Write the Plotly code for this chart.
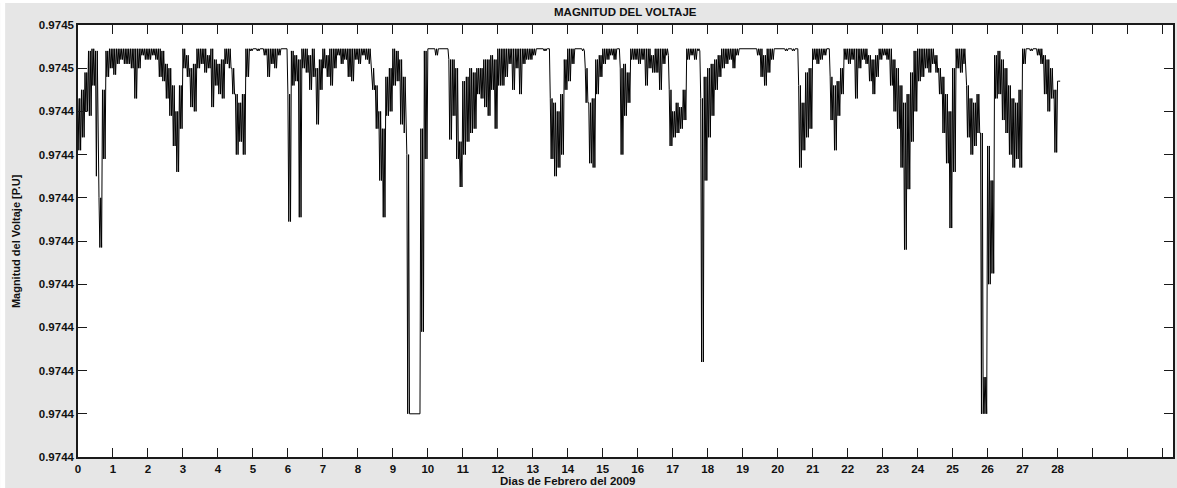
import plotly.graph_objects as go

# Voltage magnitude [p.u.], one bin per 0.1 day (Feb 2009).
# V_MAX: upper value in the bin, V_MIN: lowest value in the bin.
V_MAX = [
    0.9744486, 0.9744490, 0.9744498, 0.9744508, 0.9744509, 0.9744508, 0.9744440, 0.9744490, 0.9744508, 0.9744509,
    0.9744509, 0.9744509, 0.9744509, 0.9744509, 0.9744509, 0.9744509, 0.9744509, 0.9744509, 0.9744509, 0.9744509,
    0.9744509, 0.9744509, 0.9744509, 0.9744509, 0.9744508, 0.9744502, 0.9744500, 0.9744492, 0.9744480, 0.9744492,
    0.9744509, 0.9744506, 0.9744500, 0.9744502, 0.9744509, 0.9744509, 0.9744509, 0.9744506, 0.9744509, 0.9744504,
    0.9744502, 0.9744504, 0.9744509, 0.9744509, 0.9744500, 0.9744488, 0.9744484, 0.9744488, 0.9744509, 0.9744509,
    0.9744509, 0.9744509, 0.9744509, 0.9744509, 0.9744509, 0.9744509, 0.9744509, 0.9744509, 0.9744509, 0.9744509,
    0.9744488, 0.9744508, 0.9744506, 0.9744504, 0.9744509, 0.9744509, 0.9744506, 0.9744509, 0.9744500, 0.9744504,
    0.9744509, 0.9744506, 0.9744509, 0.9744509, 0.9744509, 0.9744509, 0.9744509, 0.9744509, 0.9744509, 0.9744509,
    0.9744509, 0.9744509, 0.9744509, 0.9744509, 0.9744500, 0.9744492, 0.9744480, 0.9744472, 0.9744496, 0.9744500,
    0.9744509, 0.9744508, 0.9744504, 0.9744496, 0.9744460, 0.9744340, 0.9744340, 0.9744340, 0.9744472, 0.9744508,
    0.9744509, 0.9744509, 0.9744509, 0.9744509, 0.9744509, 0.9744509, 0.9744504, 0.9744504, 0.9744500, 0.9744466,
    0.9744494, 0.9744496, 0.9744500, 0.9744498, 0.9744500, 0.9744500, 0.9744504, 0.9744504, 0.9744506, 0.9744504,
    0.9744509, 0.9744509, 0.9744509, 0.9744509, 0.9744509, 0.9744509, 0.9744509, 0.9744509, 0.9744509, 0.9744509,
    0.9744509, 0.9744509, 0.9744509, 0.9744509, 0.9744509, 0.9744486, 0.9744484, 0.9744480, 0.9744488, 0.9744504,
    0.9744509, 0.9744509, 0.9744509, 0.9744509, 0.9744509, 0.9744500, 0.9744484, 0.9744486, 0.9744504, 0.9744506,
    0.9744509, 0.9744509, 0.9744509, 0.9744509, 0.9744509, 0.9744500, 0.9744502, 0.9744498, 0.9744509, 0.9744509,
    0.9744509, 0.9744509, 0.9744509, 0.9744509, 0.9744506, 0.9744509, 0.9744509, 0.9744509, 0.9744509, 0.9744490,
    0.9744480, 0.9744484, 0.9744482, 0.9744490, 0.9744509, 0.9744509, 0.9744509, 0.9744509, 0.9744486, 0.9744496,
    0.9744500, 0.9744502, 0.9744504, 0.9744506, 0.9744509, 0.9744509, 0.9744509, 0.9744509, 0.9744509, 0.9744509,
    0.9744509, 0.9744509, 0.9744509, 0.9744509, 0.9744509, 0.9744509, 0.9744506, 0.9744509, 0.9744509, 0.9744509,
    0.9744509, 0.9744509, 0.9744509, 0.9744509, 0.9744509, 0.9744509, 0.9744492, 0.9744484, 0.9744498, 0.9744500,
    0.9744509, 0.9744509, 0.9744509, 0.9744509, 0.9744509, 0.9744496, 0.9744492, 0.9744494, 0.9744500, 0.9744509,
    0.9744509, 0.9744509, 0.9744509, 0.9744509, 0.9744509, 0.9744509, 0.9744506, 0.9744504, 0.9744506, 0.9744509,
    0.9744509, 0.9744509, 0.9744509, 0.9744504, 0.9744500, 0.9744492, 0.9744484, 0.9744488, 0.9744498, 0.9744508,
    0.9744509, 0.9744509, 0.9744509, 0.9744509, 0.9744509, 0.9744506, 0.9744500, 0.9744496, 0.9744488, 0.9744480,
    0.9744500, 0.9744509, 0.9744509, 0.9744509, 0.9744492, 0.9744486, 0.9744484, 0.9744488, 0.9744470, 0.9744357,
    0.9744464, 0.9744448, 0.9744506, 0.9744508, 0.9744504, 0.9744500, 0.9744492, 0.9744486, 0.9744484, 0.9744490,
    0.9744509, 0.9744509, 0.9744509, 0.9744509, 0.9744509, 0.9744509, 0.9744506, 0.9744504, 0.9744500, 0.9744490,
    0.9744494,
]
V_MIN = [
    0.9744462, 0.9744468, 0.9744480, 0.9744478, 0.9744492, 0.9744450, 0.9744417, 0.9744458, 0.9744496, 0.9744500,
    0.9744497, 0.9744502, 0.9744504, 0.9744502, 0.9744502, 0.9744500, 0.9744486, 0.9744500, 0.9744506, 0.9744504,
    0.9744504, 0.9744506, 0.9744504, 0.9744496, 0.9744494, 0.9744486, 0.9744478, 0.9744464, 0.9744452, 0.9744472,
    0.9744500, 0.9744496, 0.9744482, 0.9744480, 0.9744500, 0.9744502, 0.9744498, 0.9744500, 0.9744482, 0.9744492,
    0.9744488, 0.9744486, 0.9744502, 0.9744500, 0.9744488, 0.9744460, 0.9744466, 0.9744460, 0.9744496, 0.9744508,
    0.9744509, 0.9744508, 0.9744509, 0.9744506, 0.9744496, 0.9744502, 0.9744500, 0.9744506, 0.9744509, 0.9744509,
    0.9744429, 0.9744492, 0.9744494, 0.9744431, 0.9744500, 0.9744498, 0.9744490, 0.9744496, 0.9744474, 0.9744490,
    0.9744500, 0.9744496, 0.9744492, 0.9744500, 0.9744506, 0.9744502, 0.9744504, 0.9744496, 0.9744494, 0.9744504,
    0.9744502, 0.9744506, 0.9744504, 0.9744502, 0.9744490, 0.9744472, 0.9744448, 0.9744431, 0.9744478, 0.9744480,
    0.9744492, 0.9744494, 0.9744474, 0.9744470, 0.9744340, 0.9744340, 0.9744340, 0.9744340, 0.9744378, 0.9744458,
    0.9744509, 0.9744509, 0.9744506, 0.9744509, 0.9744509, 0.9744509, 0.9744467, 0.9744478, 0.9744458, 0.9744445,
    0.9744460, 0.9744466, 0.9744470, 0.9744472, 0.9744488, 0.9744486, 0.9744482, 0.9744478, 0.9744490, 0.9744472,
    0.9744492, 0.9744492, 0.9744496, 0.9744502, 0.9744490, 0.9744500, 0.9744488, 0.9744502, 0.9744504, 0.9744504,
    0.9744506, 0.9744509, 0.9744509, 0.9744508, 0.9744509, 0.9744458, 0.9744450, 0.9744454, 0.9744460, 0.9744490,
    0.9744494, 0.9744502, 0.9744509, 0.9744509, 0.9744508, 0.9744484, 0.9744456, 0.9744454, 0.9744488, 0.9744496,
    0.9744502, 0.9744504, 0.9744506, 0.9744504, 0.9744509, 0.9744460, 0.9744478, 0.9744484, 0.9744504, 0.9744504,
    0.9744502, 0.9744504, 0.9744492, 0.9744500, 0.9744498, 0.9744498, 0.9744490, 0.9744502, 0.9744506, 0.9744464,
    0.9744468, 0.9744470, 0.9744472, 0.9744476, 0.9744504, 0.9744506, 0.9744504, 0.9744508, 0.9744364, 0.9744448,
    0.9744468, 0.9744478, 0.9744490, 0.9744496, 0.9744500, 0.9744502, 0.9744504, 0.9744500, 0.9744506, 0.9744509,
    0.9744509, 0.9744509, 0.9744509, 0.9744509, 0.9744506, 0.9744496, 0.9744492, 0.9744498, 0.9744504, 0.9744509,
    0.9744509, 0.9744509, 0.9744508, 0.9744509, 0.9744508, 0.9744509, 0.9744454, 0.9744462, 0.9744468, 0.9744472,
    0.9744504, 0.9744502, 0.9744504, 0.9744506, 0.9744509, 0.9744476, 0.9744462, 0.9744478, 0.9744488, 0.9744504,
    0.9744502, 0.9744504, 0.9744486, 0.9744500, 0.9744504, 0.9744502, 0.9744494, 0.9744488, 0.9744496, 0.9744504,
    0.9744506, 0.9744504, 0.9744492, 0.9744480, 0.9744472, 0.9744454, 0.9744416, 0.9744444, 0.9744466, 0.9744480,
    0.9744494, 0.9744496, 0.9744500, 0.9744498, 0.9744502, 0.9744498, 0.9744488, 0.9744470, 0.9744456, 0.9744426,
    0.9744452, 0.9744500, 0.9744498, 0.9744502, 0.9744468, 0.9744460, 0.9744464, 0.9744470, 0.9744340, 0.9744340,
    0.9744400, 0.9744405, 0.9744486, 0.9744488, 0.9744476, 0.9744470, 0.9744460, 0.9744454, 0.9744458, 0.9744454,
    0.9744502, 0.9744509, 0.9744508, 0.9744509, 0.9744506, 0.9744502, 0.9744488, 0.9744480, 0.9744486, 0.9744461,
    0.9744494,
]
BIN_DAYS = 0.1  # width of one reading bin, in days

Y_TICKS = [0.974432, 0.974434, 0.974436, 0.974438, 0.974440, 0.974442,
           0.974444, 0.974446, 0.974448, 0.974450, 0.974452]
Y_TICK_TEXT = ["0.9744", "0.9744", "0.9744", "0.9744", "0.9744", "0.9744",
               "0.9744", "0.9744", "0.9744", "0.9745", "0.9745"]
X_TICKS = list(range(0, 32))
X_TICK_TEXT = [str(d) for d in range(0, 29)] + ["", "", ""]

TITLE = "MAGNITUD DEL VOLTAJE"
X_TITLE = "Dias de Febrero del 2009"
Y_TITLE = "Magnitud del Voltaje [P.U]"

# Each bin is drawn as a dense oscillation between its upper and lowest value
xs, ys = [], []
for i, (hi, lo) in enumerate(zip(V_MAX, V_MIN)):
    t = i * BIN_DAYS
    q = BIN_DAYS / 4
    xs += [t, t + q, t + 2 * q, t + 3 * q]
    ys += [hi, lo, hi, lo]

FONT = "Liberation Sans, Arial, sans-serif"

fig = go.Figure()
fig.add_trace(go.Scatter(x=xs, y=ys, mode="lines",
                         line=dict(color="#000000", width=1),
                         showlegend=False, hoverinfo="skip"))

axis_common = dict(
    showgrid=False, zeroline=False, showline=True, mirror="allticks",
    linecolor="#1a1a1a", linewidth=1.5, ticks="inside", ticklen=9,
    tickcolor="#1a1a1a", tickwidth=1.3,
    tickfont=dict(family=FONT, size=11.5, color="#111111", weight="bold"),
)
fig.update_xaxes(range=[0, 31.3], tickmode="array", tickvals=X_TICKS,
                 ticktext=X_TICK_TEXT, **axis_common)
fig.update_yaxes(range=[Y_TICKS[0], Y_TICKS[-1]], tickmode="array",
                 tickvals=Y_TICKS, ticktext=Y_TICK_TEXT, **axis_common)

L, R, T, B = 78, 2, 25, 31
PW, PH = 1177 - L - R, 488 - T - B

fig.update_layout(
    width=1177, height=488,
    margin=dict(l=L, r=R, t=T, b=B, pad=0),
    paper_bgcolor="#e6e6e6", plot_bgcolor="#ffffff",
    font=dict(family=FONT, color="#111111"),
    annotations=[
        dict(text=TITLE, xref="paper", yref="paper", x=0.5, y=(PH + 13) / PH,
             showarrow=False, xanchor="center", yanchor="middle",
             font=dict(family=FONT, size=11.5, color="#111111", weight="bold")),
        dict(text=X_TITLE, xref="x", yref="paper", x=14, y=-24 / PH,
             showarrow=False, xanchor="center", yanchor="middle",
             font=dict(family=FONT, size=11.5, color="#111111", weight="bold")),
        dict(text=Y_TITLE, xref="paper", yref="paper", x=-(L - 16) / PW, y=0.5,
             showarrow=False, xanchor="center", yanchor="middle", textangle=-90,
             font=dict(family=FONT, size=11, color="#111111", weight="bold")),
    ],
    shapes=[
        dict(type="rect", xref="paper", yref="paper", x0=-L / PW, x1=-(L - 5) / PW,
             y0=-B / PH - 0.01, y1=(PH + T) / PH + 0.01, fillcolor="#ffffff",
             line=dict(width=0), layer="below"),
        dict(type="rect", xref="paper", yref="paper", x0=-L / PW, x1=1.01,
             y0=(PH + T - 3) / PH, y1=(PH + T) / PH + 0.01, fillcolor="#ffffff",
             line=dict(width=0), layer="below"),
    ],
)

fig.write_html(
    "out.html",
    config={"displayModeBar": False},
    post_script="document.body.style.margin='0';document.body.style.overflow='hidden';",
)
